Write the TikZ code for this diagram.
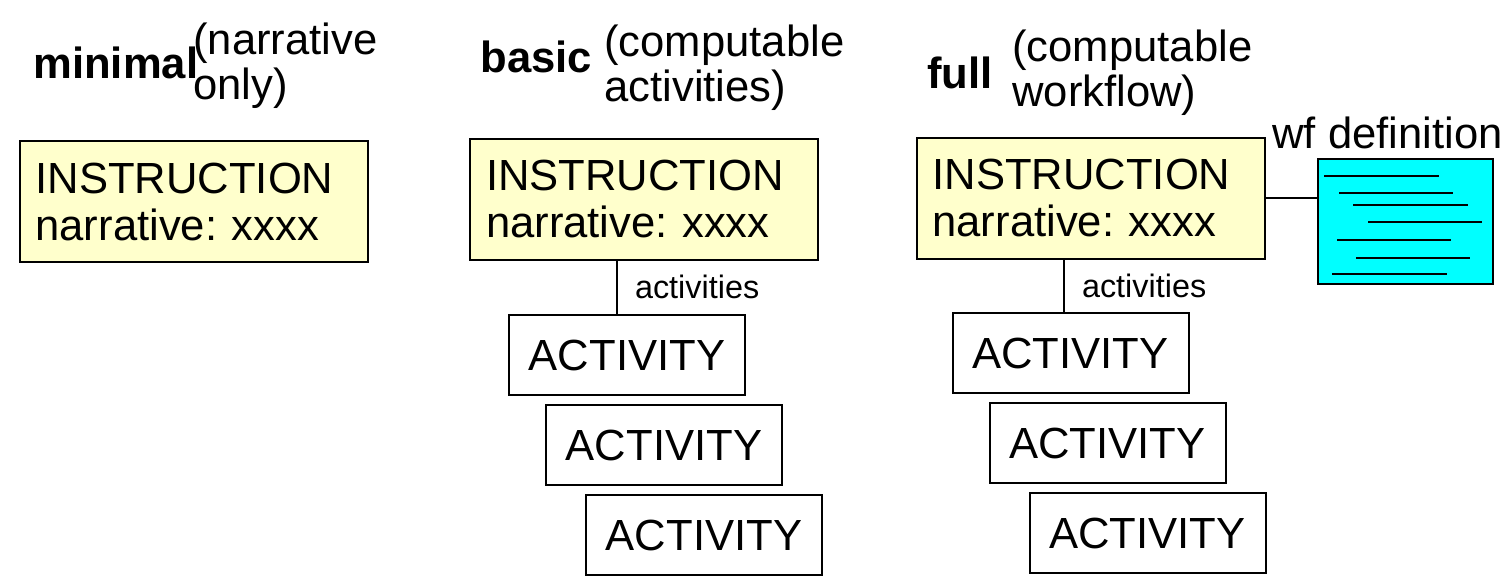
\documentclass[tikz,border=0pt]{standalone}
\usepackage{fontspec}
\setmainfont{Liberation Sans}
\usetikzlibrary{positioning}
\definecolor{notepaper}{RGB}{255,255,204}
\definecolor{wfcyan}{RGB}{0,255,255}
\newcommand{\bigfont}{\fontsize{21.8}{22.5}\selectfont}
\frenchspacing
\tikzset{
  instr/.style={draw, line width=1pt, fill=notepaper, minimum height=60.5pt,
    text width=158pt, inner xsep=8pt, align=left,
    font=\fontsize{21.8}{23.5}\selectfont},
  activity/.style={draw, line width=1pt, fill=white, minimum width=118pt,
    minimum height=40pt, font=\bigfont},
  title/.style={inner sep=0pt, anchor=base west, font=\bigfont\bfseries},
  subtitle/.style={inner sep=0pt, anchor=north west, align=left, font=\bigfont},
  rolename/.style={font=\fontsize{16.2}{18}\selectfont, anchor=west, inner sep=0pt}
}
\begin{document}
\begin{tikzpicture}[x=0.5pt,y=-0.5pt]
  \useasboundingbox (0,0) rectangle (1511,586);

  % minimal
  \node[title] (tmin) at (33,78) {minimal};
  \node[subtitle] (smin) at (193,22) {(narrative\\only)};
  \node[instr] (minst) at (193.5,201.5) {INSTRUCTION\\narrative: xxxx};

  % basic
  \node[title] (tbas) at (480,72) {basic};
  \node[subtitle] (sbas) at (604,24) {(computable\\activities)};
  \node[instr] (binst) at (644,199) {INSTRUCTION\\narrative: xxxx};
  \node[activity] (bact3) at (704,535) {ACTIVITY};
  \node[activity] (bact2) at (664,445) {ACTIVITY};
  \node[activity] (bact1) at (627,355) {ACTIVITY};
  \draw[line width=1pt] ([xshift=-5pt]bact1.north |- binst.south) -- ([xshift=-5pt]bact1.north)
    node[rolename, midway, xshift=8.5pt] (bact) {activities};

  % full
  \node[title] (tful) at (927,88) {full};
  \node[subtitle] (sful) at (1012,29) {(computable\\workflow)};
  \node[instr] (finst) at (1090.5,198) {INSTRUCTION\\narrative: xxxx};
  \node[activity] (fact3) at (1147.5,533) {ACTIVITY};
  \node[activity] (fact2) at (1107.5,443) {ACTIVITY};
  \node[activity] (fact1) at (1070.5,353) {ACTIVITY};
  \draw[line width=1pt] ([xshift=-3.25pt]fact1.north |- finst.south) -- ([xshift=-3.25pt]fact1.north)
    node[rolename, midway, xshift=8.5pt] (fact) {activities};

  % workflow definition
  \node[title, font=\bigfont] (twf) at (1272,148) {wf definition};
  \node[draw, line width=1pt, fill=wfcyan, minimum width=87.5pt,
    minimum height=62.5pt] (wf) at (1405.5,221.5) {};
  \foreach \xa/\xb/\y in {1324/1439/176, 1339/1453/193, 1353/1468/205,
      1368/1482/222, 1337/1451/240, 1356/1470/258, 1332/1447/274}{
    \draw[line width=1pt] (\xa,\y) -- (\xb,\y);
  }
  \draw[line width=1pt] (finst.east) -- (finst.east -| wf.west);
\end{tikzpicture}
\end{document}
